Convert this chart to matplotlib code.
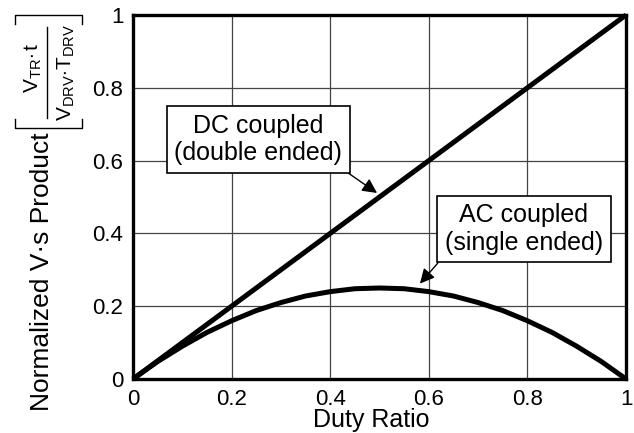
import matplotlib
matplotlib.use("Agg")
import matplotlib.pyplot as plt
from matplotlib.lines import Line2D

plt.rcParams['font.family'] = ['Liberation Sans', 'DejaVu Sans']
plt.rcParams['mathtext.fontset'] = 'custom'
plt.rcParams['mathtext.rm'] = 'Liberation Sans'
plt.rcParams['mathtext.it'] = 'Liberation Sans'

# Data
duty = [0.0, 0.05, 0.1, 0.15, 0.2, 0.25, 0.3, 0.35, 0.4, 0.45, 0.5,
        0.55, 0.6, 0.65, 0.7, 0.75, 0.8, 0.85, 0.9, 0.95, 1.0]
dc_coupled = [0.0, 0.05, 0.1, 0.15, 0.2, 0.25, 0.3, 0.35, 0.4, 0.45, 0.5,
              0.55, 0.6, 0.65, 0.7, 0.75, 0.8, 0.85, 0.9, 0.95, 1.0]
ac_coupled = [0.0, 0.048, 0.09, 0.128, 0.16, 0.188, 0.21, 0.228, 0.24, 0.248, 0.25,
              0.248, 0.24, 0.228, 0.21, 0.188, 0.16, 0.128, 0.09, 0.048, 0.0]

ticks = [0, 0.2, 0.4, 0.6, 0.8, 1]
tick_labels = ['0', '0.2', '0.4', '0.6', '0.8', '1']

W, H = 634, 433
fig = plt.figure(figsize=(W / 100, H / 100), dpi=100)
ax = fig.add_axes([0.2098, 0.1247, 0.7776, 0.8407])


def fx(x):
    return x / W


def fy(y):
    return 1 - y / H


ax.plot(duty, dc_coupled, color='black', lw=3.6, solid_capstyle='butt',
        solid_joinstyle='round', clip_on=False, zorder=3)
ax.plot(duty, ac_coupled, color='black', lw=3.6, solid_capstyle='butt',
        solid_joinstyle='round', clip_on=False, zorder=3)

ax.set_xlim(0, 1)
ax.set_ylim(0, 1)
ax.set_xticks(ticks)
ax.set_xticklabels(tick_labels)
ax.set_yticks(ticks)
ax.set_yticklabels(tick_labels)
ax.tick_params(length=0, labelsize=16, pad=7)
ax.grid(True, color='#444444', lw=0.9)
for s in ax.spines.values():
    s.set_linewidth(2.4)

# axis labels
fig.text(0.585, 0.03, 'Duty Ratio', ha='center', va='center', fontsize=18)
fig.text(fx(42), fy(272), 'Normalized V\u00b7s Product', rotation=90,
         ha='center', va='center', fontsize=19)

# normalisation fraction in brackets (rotated)
fig.text(fx(33), fy(68), r'$\mathrm{V_{TR}{\cdot}\,t}$', rotation=90,
         ha='center', va='center', fontsize=15)
fig.text(fx(66), fy(72), r'$\mathrm{V_{DRV}{\cdot}T_{DRV}}$', rotation=90,
         ha='center', va='center', fontsize=15)
bracket = [
    ([47, 47], [27, 118]),                     # fraction bar
    ([15, 15, 82, 82], [24, 15, 15, 24]),      # top bracket
    ([15, 15, 82, 82], [119, 128, 128, 119]),  # bottom bracket
]
for xs, ys in bracket:
    fig.add_artist(Line2D([fx(v) for v in xs], [fy(v) for v in ys],
                          color='black', lw=1.0))

box = dict(boxstyle='square,pad=0.3', fc='white', ec='black', lw=1.2)
ax.annotate('DC coupled\n(double ended)', xy=(0.495, 0.511), xytext=(0.254, 0.658),
            ha='center', va='center', fontsize=18, bbox=box, zorder=5,
            arrowprops=dict(arrowstyle='-|>', color='black', lw=1.0,
                            mutation_scale=22, relpos=(0.97, 0), shrinkA=0, shrinkB=0))
ax.annotate('AC coupled\n(single ended)', xy=(0.582, 0.262), xytext=(0.793, 0.412),
            ha='center', va='center', fontsize=18, bbox=box, zorder=5,
            arrowprops=dict(arrowstyle='-|>', color='black', lw=1.0,
                            mutation_scale=22, relpos=(0, 0), shrinkA=0, shrinkB=0))

fig.savefig('out.png', dpi=100)
